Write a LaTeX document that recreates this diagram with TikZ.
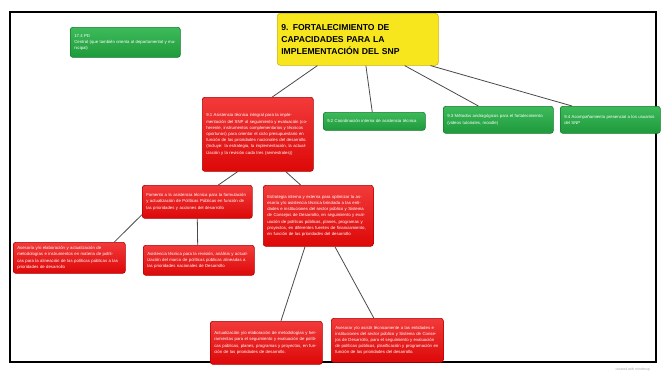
\documentclass[tikz,border=0pt]{standalone}
\usepackage{fontspec}
\setmainfont{Liberation Sans}
\usetikzlibrary{calc}
\definecolor{redtop}{HTML}{F23A3A}
\definecolor{redbot}{HTML}{DD0808}
\definecolor{redline}{HTML}{B00000}
\definecolor{greentop}{HTML}{3DBA5A}
\definecolor{greenbot}{HTML}{1E9A3C}
\definecolor{greenline}{HTML}{167A2E}
\definecolor{yel}{HTML}{F7E61E}
\definecolor{yelline}{HTML}{C8B400}
\definecolor{linkgray}{HTML}{4A4A4A}
\tikzset{
  idea/.style={anchor=north west, rounded corners=2.5pt, inner sep=4pt,
    align=left, text=white, font=\fontsize{4.3}{6.2}\selectfont, line width=0.6pt},
  redidea/.style={idea, draw=redline, top color=redtop, bottom color=redbot},
  greenidea/.style={idea, draw=greenline, top color=greentop, bottom color=greenbot},
  rootidea/.style={anchor=north west, rounded corners=3pt, inner sep=4pt, align=left,
    draw=yelline, fill=yel, text=black, line width=0.6pt,
    font=\fontsize{8.6}{12.2}\selectfont\bfseries},
  link/.style={draw=linkgray, line width=0.8pt},
  frame/.style={draw=black, line width=1.8pt}
}
\begin{document}
\begin{tikzpicture}[x=1pt,y=-1pt]
\useasboundingbox (0,0) rectangle (664,381);
\fill[white] (0,0) rectangle (664,381);
\draw[frame] (10,12) rectangle (656,362);

% central idea
\node[rootidea, text width=153pt, minimum height=52pt] (root) at (277,13)
  {9. FORTALECIMIENTO DE\\CAPACIDADES PARA LA\\IMPLEMENTACIÓN DEL SNP};

% first level
\node[greenidea, text width=102pt, minimum height=30pt] (pd) at (70,27)
  {17.4 PD\\Central (que también orienta al departamental y municipal)};
\node[redidea, text width=103pt, minimum height=74pt] (n91) at (202,97)
  {9.1 Asistencia técnica integral para la implementación del SNP al seguimiento y evaluación (coherente, instrumentos complementarios y técnicos oportunos) para orientar el ciclo presupuestario en función de las prioridades nacionales del desarrollo. (Incluye: la estrategia, la implementación, la actualización y la revisión cada tres (semestrales))};
\node[greenidea, text width=94pt, minimum height=18pt] (n92) at (323,112)
  {9.2 Coordinación interna de asistencia técnica};
\node[greenidea, text width=102pt, minimum height=27pt] (n93) at (443,106)
  {9.3 Métodos andragógicos para el fortalecimiento (videos tutoriales, moodle)};
\node[greenidea, text width=92pt, minimum height=27pt] (n94) at (560,106)
  {9.4 Acompañamiento presencial a los usuarios del SNP};

% second level
\node[redidea, text width=102pt, minimum height=33pt] (fom) at (142,185)
  {Fomento a la asistencia técnica para la formulación y actualización de Políticas Públicas en función de las prioridades y acciones del desarrollo};
\node[redidea, text width=102pt, minimum height=61pt] (est) at (263,185)
  {Estrategia interna y externa para optimizar la asesoría y/o asistencia técnica brindada a las entidades e instituciones del sector público y Sistema de Consejos de Desarrollo, en seguimiento y evaluación de políticas públicas, planes, programas y proyectos, en diferentes fuentes de financiamiento, en función de las prioridades del desarrollo};

% third level
\node[redidea, text width=104pt, minimum height=31pt] (ase1) at (13,242)
  {Asesoría y/o elaboración y actualización de metodologías e instrumentos en materia de políticas para la alineación de las políticas públicas a las prioridades de desarrollo};
\node[redidea, text width=103pt, minimum height=30pt] (asis) at (143,245)
  {Asistencia técnica para la revisión, análisis y actualización del marco de políticas públicas alineadas a las prioridades nacionales de Desarrollo};
\node[redidea, text width=104pt, minimum height=43pt] (act) at (210,321)
  {Actualización y/o elaboración de metodologías y herramientas para el seguimiento y evaluación de políticas públicas, planes, programas y proyectos, en función de las prioridades de desarrollo.};
\node[redidea, text width=104pt, minimum height=44pt] (ase2) at (331,318)
  {Asesorar y/o asistir técnicamente a las entidades e instituciones del sector público y Sistema de Consejos de Desarrollo, para el seguimiento y evaluación de políticas públicas, planificación y programación en función de las prioridades del desarrollo.};

% connectors
\draw[link] ($(root.south west)!0.25!(root.south east)$) -- ($(n91.north west)!0.63!(n91.north east)$);
\draw[link] ($(root.south west)!0.55!(root.south east)$) -- ($(n92.north west)!0.48!(n92.north east)$);
\draw[link] ($(root.south west)!0.79!(root.south east)$) -- ($(n93.north west)!0.32!(n93.north east)$);
\draw[link] ($(root.south west)!0.95!(root.south east)$) -- ($(n94.north west)!0.12!(n94.north east)$);
\draw[link] ($(n91.south west)!0.32!(n91.south east)$) -- ($(fom.north west)!0.69!(fom.north east)$);
\draw[link] ($(n91.south west)!0.75!(n91.south east)$) -- ($(est.north west)!0.34!(est.north east)$);
\coordinate (fomL) at ($(fom.south west)+(0,-4)$);
\draw[link] (fomL) -- ($(ase1.north west)!0.9!(ase1.north east)$);
\draw[link] ($(fom.south west)!0.5!(fom.south east)$) -- ($(asis.north west)!0.49!(asis.north east)$);
\draw[link] ($(est.south west)!0.38!(est.south east)$) -- ($(act.north west)!0.63!(act.north east)$);
\draw[link] ($(est.south west)!0.65!(est.south east)$) -- ($(ase2.north west)!0.38!(ase2.north east)$);

% credit line
\node[anchor=east, text=gray!70, font=\fontsize{3.5}{4}\selectfont, inner sep=0pt] (credit) at (650,370) {created with mindmup};
\end{tikzpicture}
\end{document}
